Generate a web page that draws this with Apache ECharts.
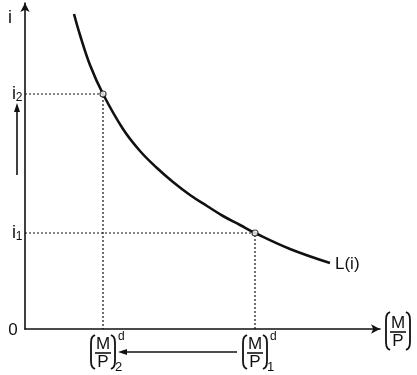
<!DOCTYPE html>
<html><head><meta charset="utf-8">
<script src="https://cdn.jsdelivr.net/npm/echarts@6/dist/echarts.min.js"></script>
<style>html,body{margin:0;padding:0;background:#fff}#c{width:417px;height:375px}</style>
</head><body><div id="c"></div>
<script>
// Money demand curve L(i) (arbitrary units)
const curveX = [49, 55, 65, 78, 98, 115, 132, 148, 165, 182, 198, 215, 230, 265, 305];
const curveY = [315, 294, 264, 235, 200, 178, 161, 147, 134, 123, 113, 104, 96, 80, 66];
// Marked points: (M/P)2 at i2, (M/P)1 at i1
const pointX = [78, 230];
const pointY = [235, 96];
const xMax = 355, yMax = 326;
const subs = ['2', '1'];

const FONT = '"Liberation Sans", Arial, sans-serif';
const chart = echarts.init(document.getElementById('c'), null, {renderer: 'canvas'});

const axisCommon = {
  type: 'value', min: 0,
  splitLine: {show: false}, axisTick: {show: false}, axisLabel: {show: false},
  axisLine: {show: true, onZero: false, symbol: ['none', 'arrow'], symbolSize: [7, 9],
    lineStyle: {color: '#111', width: 1.6}}
};

const series = [{
  type: 'line', smooth: 0.4, symbol: 'none', silent: true,
  data: curveX.map((x, i) => [x, curveY[i]]),
  lineStyle: {color: '#111', width: 2.6}, z: 3
}];
pointX.forEach((p, i) => {
  series.push({
    type: 'line', symbol: 'none', silent: true,
    data: [[0, pointY[i]], [p, pointY[i]], [p, 0]],
    lineStyle: {color: '#111', width: 1.2, type: [2, 2]}, z: 2
  });
});
series.push({
  type: 'scatter', symbol: 'circle', symbolSize: 6, silent: true,
  data: pointX.map((x, i) => [x, pointY[i]]),
  itemStyle: {color: '#fff', borderColor: '#111', borderWidth: 1.2}, z: 4
});

chart.setOption({
  animation: false,
  grid: {left: 25, right: 37, top: 3, bottom: 46, containLabel: false},
  xAxis: Object.assign({}, axisCommon, {max: xMax}),
  yAxis: Object.assign({}, axisCommon, {max: yMax}),
  series: series
});

function px(x, y) { return chart.convertToPixel({gridIndex: 0}, [x, y]); }
const o = px(0, 0);
const g = [];
function txt(x, y, s, size, align) {
  g.push({type: 'text', x: x, y: y, z: 10, style: {text: s, fontSize: size, fontFamily: FONT,
    fill: '#111', align: align || 'center', verticalAlign: 'middle'}});
}
function paren(cx, cy, h, left) {
  const s = left ? 1 : -1;
  const t = cy - h / 2, b = cy + h / 2;
  const pts = [[cx + s * 4, t], [cx + s * 1.6, t + 1.5], [cx + s * 0.4, t + 4], [cx, t + 8],
    [cx, b - 8], [cx + s * 0.4, b - 4], [cx + s * 1.6, b - 1.5], [cx + s * 4, b]];
  g.push({type: 'polyline', z: 10, shape: {points: pts}, style: {stroke: '#111', lineWidth: 1.8, fill: null}});
}
function frac(cx, cy, h, sup, sub) {
  paren(cx - 12, cy, h, true);
  paren(cx + 12, cy, h, false);
  txt(cx, cy - 8, 'M', 17);
  g.push({type: 'line', z: 10, shape: {x1: cx - 8, y1: cy + 1, x2: cx + 8, y2: cy + 1}, style: {stroke: '#111', lineWidth: 1.6}});
  txt(cx, cy + 10, 'P', 17);
  if (sup) txt(cx + 15, cy - 15, sup, 12, 'left');
  if (sub) txt(cx + 12, cy + 15, sub, 13, 'left');
}

// y-axis labels
txt(o[0] - 15, px(0, yMax)[1] + 15, 'i', 18);
pointY.forEach((v, i) => {
  const p = px(0, v);
  txt(o[0] - 11, p[1], 'i', 18);
  txt(o[0] - 6, p[1] + 4, subs[i], 12);
});
txt(o[0] - 12, o[1] + 1, '0', 17);

// x-axis labels
pointX.forEach((v, i) => {
  const p = px(v, 0);
  frac(p[0], o[1] + 23, 34, 'd', subs[i]);
});
const xe = px(xMax, 0);
frac(xe[0] + 18, o[1] + 2, 38, null, null);

// curve label
const last = px(curveX[curveX.length - 1], curveY[curveY.length - 1]);
txt(last[0] + 5, last[1] + 1, 'L(i)', 17, 'left');

// arrows: shift of i (left) and of (M/P) (bottom)
const a1 = px(0, pointY[1]), a2 = px(0, pointY[0]);
const ax = o[0] - 8;
const ay1 = a1[1] - 58, ay2 = a2[1] + 9;
g.push({type: 'line', z: 10, shape: {x1: ax, y1: ay1, x2: ax, y2: ay2 + 6}, style: {stroke: '#111', lineWidth: 1.6}});
g.push({type: 'polygon', z: 10, shape: {points: [[ax, ay2], [ax - 3, ay2 + 9], [ax + 3, ay2 + 9]]}, style: {fill: '#111'}});
const b1 = px(pointX[1], 0), b2 = px(pointX[0], 0);
const by = o[1] + 23;
const bx1 = b1[0] - 18, bx2 = b2[0] + 15;
g.push({type: 'line', z: 10, shape: {x1: bx1, y1: by, x2: bx2 + 6, y2: by}, style: {stroke: '#111', lineWidth: 1.6}});
g.push({type: 'polygon', z: 10, shape: {points: [[bx2, by], [bx2 + 9, by - 3], [bx2 + 9, by + 3]]}, style: {fill: '#111'}});

chart.setOption({graphic: {elements: g}});
</script></body></html>
